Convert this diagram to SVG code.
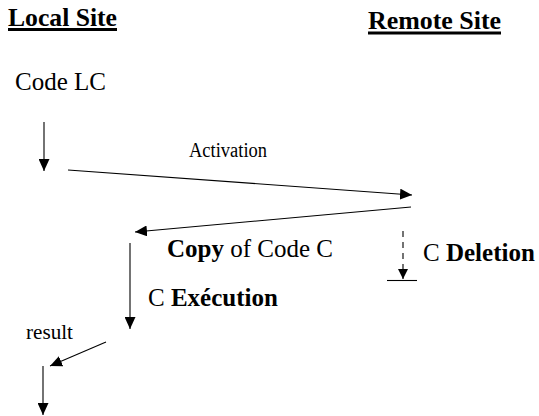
<svg xmlns="http://www.w3.org/2000/svg" width="539" height="416" viewBox="0 0 539 416">
  <style>
    text { font-family: "Liberation Serif", "Times New Roman", serif; fill: #000; }
    .head { font-size: 25px; font-weight: bold; }
    .uline { fill: #000; }
    .big { font-size: 25px; }
    .small { font-size: 20px; }
    .bold { font-weight: bold; }
    .conn line { stroke: #000; stroke-width: 1.1; fill: none; }
    .conn .dash { stroke-dasharray: 6 5; }
  </style>
  <defs>
    <marker id="arrow" markerUnits="userSpaceOnUse" markerWidth="12" markerHeight="11" refX="12" refY="5.5" orient="auto">
      <path d="M0,0 L12,5.5 L0,11 Z" fill="#000"/>
    </marker>
    <marker id="arrowSmall" markerUnits="userSpaceOnUse" markerWidth="10" markerHeight="10" refX="10" refY="5" orient="auto">
      <path d="M0,0 L10,5 L0,10 Z" fill="#000"/>
    </marker>
  </defs>

  <!-- site headers, with heavy underlines -->
  <g id="local-site">
    <text class="head" x="8" y="26" textLength="109" lengthAdjust="spacingAndGlyphs">Local Site</text>
    <rect class="uline" x="8" y="28" width="109" height="3"/>
  </g>
  <g id="remote-site">
    <text class="head" x="368" y="29" textLength="133" lengthAdjust="spacingAndGlyphs">Remote Site</text>
    <rect class="uline" x="368" y="31.5" width="133" height="3"/>
  </g>

  <!-- step labels -->
  <g id="code-lc"><text class="big" x="15" y="90">Code LC</text></g>
  <g id="activation"><text class="small" x="189" y="157" textLength="78" lengthAdjust="spacingAndGlyphs">Activation</text></g>
  <g id="copy"><text class="big" x="167" y="257"><tspan class="bold">Copy</tspan> of Code C</text></g>
  <g id="deletion"><text class="big" x="423" y="261">C <tspan class="bold">Deletion</tspan></text></g>
  <g id="execution"><text class="big" x="148" y="306">C <tspan class="bold">Exécution</tspan></text></g>
  <g id="result"><text class="small" x="26" y="339" textLength="47" lengthAdjust="spacingAndGlyphs">result</text></g>

  <!-- connectors -->
  <g id="connectors" class="conn">
    <line x1="44" y1="122" x2="44" y2="171" marker-end="url(#arrow)"/>
    <line x1="68" y1="170" x2="412" y2="195" marker-end="url(#arrow)"/>
    <line x1="411" y1="207" x2="135" y2="232" marker-end="url(#arrow)"/>
    <line class="dash" x1="403" y1="231" x2="403" y2="279" marker-end="url(#arrowSmall)"/>
    <line x1="387" y1="280.5" x2="417" y2="280.5"/>
    <line x1="130" y1="243" x2="130" y2="329" marker-end="url(#arrow)"/>
    <line x1="106" y1="342" x2="50" y2="366" marker-end="url(#arrow)"/>
    <line x1="43" y1="366" x2="43" y2="415" marker-end="url(#arrow)"/>
  </g>
</svg>
